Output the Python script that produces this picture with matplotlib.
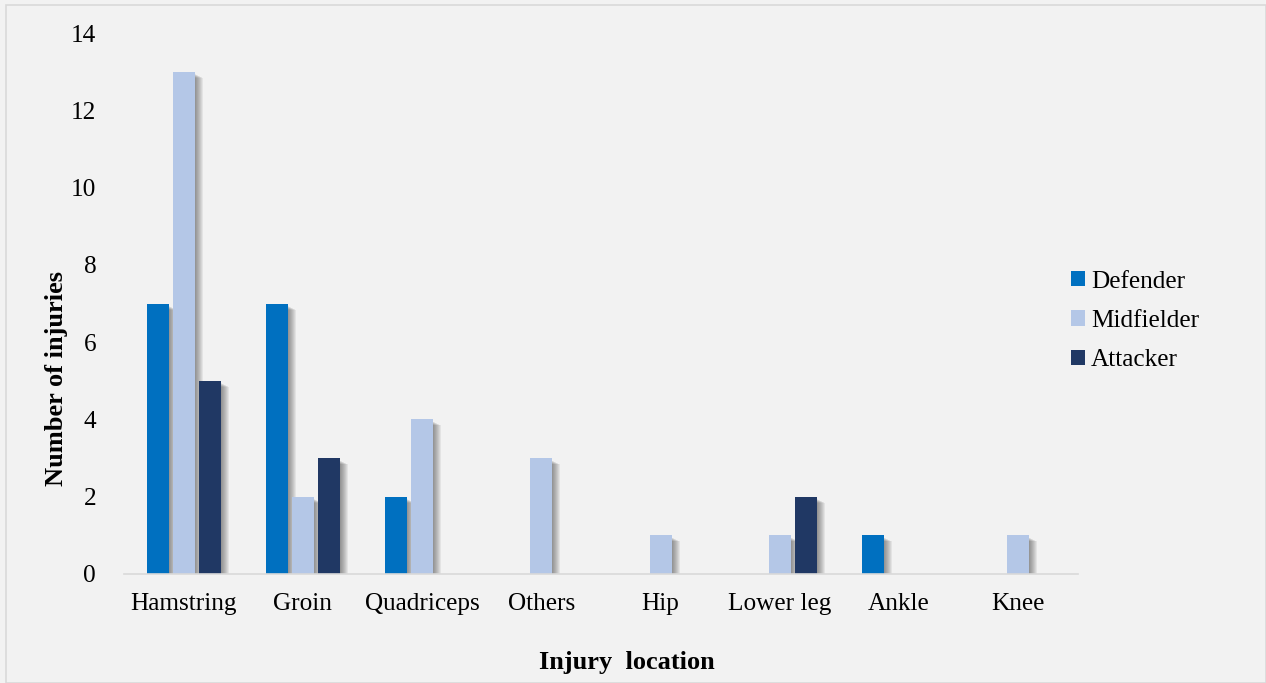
import matplotlib
matplotlib.use("Agg")
import matplotlib.pyplot as plt
import matplotlib.transforms as mtransforms
from matplotlib.patches import Rectangle
import numpy as np

categories = ["Hamstring", "Groin", "Quadriceps", "Others", "Hip", "Lower leg", "Ankle", "Knee"]
defender = [7, 7, 2, 0, 0, 0, 1, 0]
midfielder = [13, 2, 4, 3, 1, 1, 0, 1]
attacker = [5, 3, 0, 0, 0, 2, 0, 0]
series_names = ["Defender", "Midfielder", "Attacker"]
colors = ["#0070c0", "#b4c7e7", "#203864"]
yticks = [0, 2, 4, 6, 8, 10, 12, 14]

plt.rcParams['font.family'] = ['Liberation Serif', 'DejaVu Serif']

fig = plt.figure(figsize=(12.66, 6.83), dpi=100, facecolor="#f2f2f2")
W, H = 1266, 683
ax = fig.add_axes([124 / W, (H - 574) / H, (1078 - 124) / W, (574 - 33) / H])
ax.set_facecolor("#f2f2f2")

fig.patches.append(Rectangle((6 / W, 0), 1 - 6 / W - 0.5 / W, 1 - 4 / H - 0.5 / H,
                             transform=fig.transFigure, fill=False,
                             edgecolor="#d9d9d9", linewidth=1.2, zorder=0))

x = np.arange(len(categories))
bw = 0.185
step = 0.218
data = [defender, midfielder, attacker]
px = 0.72  # points per pixel at dpi 100
for i, (vals, c, name) in enumerate(zip(data, colors, series_names)):
    pos = x + (i - 1) * step
    # soft shadows
    for k in range(1, 9):
        tr = mtransforms.offset_copy(ax.transData, fig=fig, x=k * px, y=-(2 + k * 0.5) * px,
                                     units='points')
        ax.bar(pos, vals, width=bw, color="#303030", alpha=0.075, transform=tr, zorder=1,
               linewidth=0)
    ax.bar(pos, vals, width=bw, color=c, label=name, zorder=3, linewidth=0)

ax.set_xlim(-0.5, len(categories) - 0.5)
ax.set_ylim(0, 14)
ax.set_yticks(yticks)
ax.set_yticklabels([str(t) for t in yticks])
ax.set_xticks(x)
ax.set_xticklabels(categories)
ax.tick_params(axis='both', length=0, labelsize=18.2, colors="#000000")
ax.tick_params(axis='y', pad=20)
ax.tick_params(axis='x', pad=14)
for s in ["top", "right", "left"]:
    ax.spines[s].set_visible(False)
ax.spines["bottom"].set_color("#d9d9d9")
ax.spines["bottom"].set_linewidth(1.2)
ax.spines["bottom"].set_zorder(4)

fig.text(57 / W, 1 - 378 / H, "Number of injuries", fontsize=19, fontweight="bold",
         ha="center", va="center", rotation=90)
fig.text(627 / W, 1 - 663 / H, "Injury  location", fontsize=19, fontweight="bold",
         ha="center", va="center")

leg = ax.legend(loc="center left", bbox_to_anchor=(1048 / W, 1 - 321 / H),
                bbox_transform=fig.transFigure, frameon=False, fontsize=18.2,
                handlelength=0.55, handleheight=0.55, handletextpad=0.25, labelspacing=0.68)

fig.savefig("out.png", dpi=100, facecolor=fig.get_facecolor())
